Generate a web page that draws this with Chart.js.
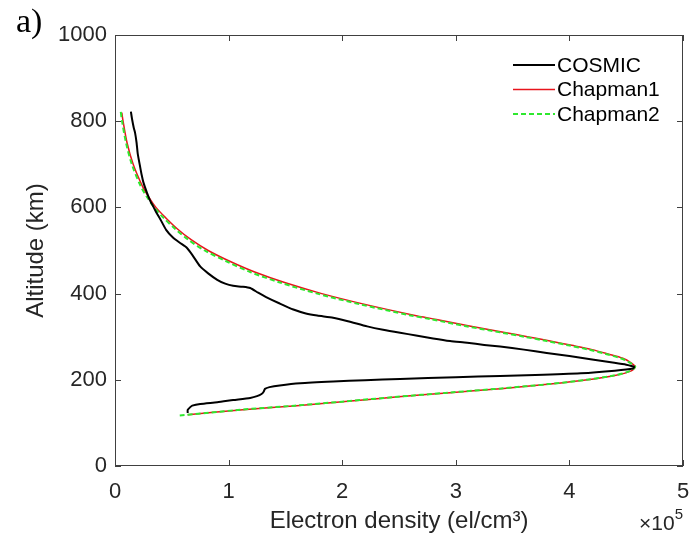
<!DOCTYPE html>
<html>
<head>
<meta charset="utf-8">
<script src="https://cdn.jsdelivr.net/npm/chart.js@4/dist/chart.umd.min.js"></script>
<style>
  body { margin: 0; background: #fff; }
  #wrap { position: relative; width: 692px; height: 544px; }
  #panel { position: absolute; left: 16px; top: 2px; font: 34px "Liberation Serif", "Times New Roman", serif; color: #000; }
  #mult { position: absolute; left: 639px; top: 508px; font: 21px "Liberation Sans", Arial, sans-serif; color: #262626; }
  #mult sup { font-size: 15px; position: relative; top: -3px; }
</style>
</head>
<body>
<div id="wrap">
  <canvas id="profileChart" width="692" height="544"></canvas>
  <div id="panel">a)</div>
  <div id="mult">&times;10<sup>5</sup></div>
</div>
<script>
// electron density in units of 1e5 el/cm3, altitude in km
const cosmicDens = [0.14, 0.15, 0.165, 0.176, 0.19, 0.20, 0.22, 0.235, 0.25, 0.28, 0.31, 0.335, 0.36, 0.40,
  0.45, 0.51, 0.57, 0.63, 0.68, 0.75, 0.82, 0.90, 0.97, 1.04, 1.12, 1.19, 1.26, 1.33, 1.45, 1.57, 1.68,
  1.78, 1.92, 2.05, 2.22, 2.36, 2.51, 2.65, 2.80, 2.95, 3.10, 3.25, 3.39, 3.60, 3.80, 4.00, 4.20, 4.38,
  4.50, 4.57, 4.56, 4.40, 4.10, 3.70, 3.39, 3.00, 2.51, 2.20, 1.92, 1.63, 1.45, 1.36, 1.32, 1.31, 1.29,
  1.25, 1.19, 1.04, 0.90, 0.75, 0.68, 0.66, 0.64, 0.64];
const cosmicAlt = [822, 805, 785, 774, 750, 725, 696, 675, 658, 635, 615, 603, 590, 572,
  548, 530, 518, 507, 490, 463, 447, 432, 423, 418, 416, 413, 402, 392, 377, 363, 354,
  349, 344, 336, 324, 316, 309, 303, 296, 290, 286, 281, 277, 270, 262, 255, 247, 240,
  235, 230, 226, 221, 215, 211, 209, 206, 202, 199, 196, 192, 187, 183, 179, 173, 167,
  162, 158, 153, 148, 144, 140, 136, 130, 123];

const chap1Dens = [0.64, 1.10, 1.60, 2.05, 2.47, 2.95, 3.42, 3.83, 4.16, 4.40, 4.54, 4.58, 4.54, 4.47,
  4.34, 4.20, 4.02, 3.83, 3.63, 3.43, 3.12, 2.83, 2.63, 2.20, 1.82, 1.50, 1.23, 1.01, 0.82, 0.67,
  0.55, 0.45, 0.36, 0.295, 0.24, 0.16, 0.106, 0.071, 0.06];
const chap1Alt = [119, 130, 140, 150, 160, 170, 180, 190, 200, 210, 220, 230, 240, 250,
  260, 270, 280, 290, 300, 310, 325, 340, 350, 375, 400, 425, 450, 475, 500, 525,
  550, 575, 600, 625, 650, 700, 750, 800, 820];

const chap2Dens = [0.57, 1.08, 1.58, 2.03, 2.46, 2.93, 3.40, 3.82, 4.15, 4.39, 4.53, 4.58, 4.53, 4.45,
  4.32, 4.17, 3.99, 3.80, 3.60, 3.39, 3.08, 2.79, 2.59, 2.16, 1.78, 1.46, 1.19, 0.98, 0.79, 0.645,
  0.53, 0.43, 0.345, 0.28, 0.225, 0.148, 0.097, 0.062, 0.05];
const chap2Alt = [117, 130, 140, 150, 160, 170, 180, 190, 200, 210, 220, 230, 240, 250,
  260, 270, 280, 290, 300, 310, 325, 340, 350, 375, 400, 425, 450, 475, 500, 525,
  550, 575, 600, 625, 650, 700, 750, 800, 823];

const seriesNames = ["COSMIC", "Chapman1", "Chapman2"];
const xTicks = [0, 1, 2, 3, 4, 5];
const yTicks = [0, 200, 400, 600, 800, 1000];

function toPoints(xs, ys) {
  return xs.map((v, i) => ({ x: v, y: ys[i] }));
}

const axisColor = "#404040";
const textColor = "#262626";
const fontFamily = "'Liberation Sans', Arial, Helvetica, sans-serif";

// MATLAB-like box with inward ticks, and the legend in the upper right
const boxPlugin = {
  id: "boxPlugin",
  afterDatasetsDraw(chart) {
    const { ctx, chartArea: a, scales } = chart;
    ctx.save();
    ctx.strokeStyle = axisColor;
    ctx.lineWidth = 1;
    ctx.strokeRect(a.left + 0.5, a.top + 0.5, a.right - a.left - 1, a.bottom - a.top - 1);
    ctx.beginPath();
    const tl = 6;
    xTicks.forEach(v => {
      const px = Math.round(scales.x.getPixelForValue(v)) + 0.5;
      ctx.moveTo(px, a.bottom); ctx.lineTo(px, a.bottom - tl);
      ctx.moveTo(px, a.top); ctx.lineTo(px, a.top + tl);
    });
    yTicks.forEach(v => {
      const py = Math.round(scales.y.getPixelForValue(v)) + 0.5;
      ctx.moveTo(a.left, py); ctx.lineTo(a.left + tl, py);
      ctx.moveTo(a.right, py); ctx.lineTo(a.right - tl, py);
    });
    ctx.stroke();

    // legend
    ctx.font = "21px " + fontFamily;
    ctx.textBaseline = "middle";
    ctx.textAlign = "left";
    chart.data.datasets.forEach((ds, i) => {
      const y = 65 + i * 24.5;
      ctx.beginPath();
      ctx.strokeStyle = ds.borderColor;
      ctx.lineWidth = ds.borderWidth;
      ctx.setLineDash(ds.borderDash || []);
      ctx.moveTo(513, y); ctx.lineTo(555, y);
      ctx.stroke();
      ctx.setLineDash([]);
      ctx.fillStyle = "#000";
      ctx.fillText(seriesNames[i], 557, y + 1);
    });
    ctx.restore();
  }
};

const canvas = document.getElementById("profileChart");
new Chart(canvas.getContext("2d"), {
  type: "scatter",
  data: {
    datasets: [
      {
        label: seriesNames[0],
        data: toPoints(cosmicDens, cosmicAlt),
        showLine: true,
        borderColor: "#000000",
        borderWidth: 2,
        pointRadius: 0,
        tension: 0.2,
        order: 0
      },
      {
        label: seriesNames[1],
        data: toPoints(chap1Dens, chap1Alt),
        showLine: true,
        borderColor: "#e8141c",
        borderWidth: 1.5,
        pointRadius: 0,
        tension: 0.3,
        order: 2
      },
      {
        label: seriesNames[2],
        data: toPoints(chap2Dens, chap2Alt),
        showLine: true,
        borderColor: "#2ee82e",
        borderWidth: 2,
        borderDash: [5, 3],
        pointRadius: 0,
        tension: 0.3,
        order: 1
      }
    ]
  },
  options: {
    responsive: false,
    animation: false,
    layout: { padding: { top: 35, right: 9, left: 0, bottom: 0 } },
    plugins: { legend: { display: false }, tooltip: { enabled: false } },
    scales: {
      x: {
        type: "linear",
        min: 0,
        max: 5,
        afterBuildTicks: s => { s.ticks = xTicks.map(v => ({ value: v })); },
        afterFit: s => { s.height = 78; s.paddingLeft = 0; s.paddingRight = 0; },
        grid: { display: false, drawTicks: false },
        border: { display: false },
        ticks: { color: textColor, font: { size: 22, family: fontFamily }, padding: 13, callback: v => String(v) },
        title: {
          display: true,
          text: "Electron density (el/cm³)",
          color: textColor,
          font: { size: 24, family: fontFamily },
          padding: { top: 0, bottom: 8 }
        }
      },
      y: {
        type: "linear",
        min: 0,
        max: 1000,
        afterBuildTicks: s => { s.ticks = yTicks.map(v => ({ value: v })); },
        afterFit: s => { s.width = 115; s.paddingTop = 0; s.paddingBottom = 0; },
        grid: { display: false, drawTicks: false },
        border: { display: false },
        ticks: { color: textColor, font: { size: 22, family: fontFamily }, padding: 8, callback: v => String(v) },
        title: {
          display: true,
          text: "Altitude (km)",
          color: textColor,
          font: { size: 24, family: fontFamily },
          padding: { top: 22, bottom: 0 }
        }
      }
    }
  },
  plugins: [boxPlugin]
});
</script>
</body>
</html>
